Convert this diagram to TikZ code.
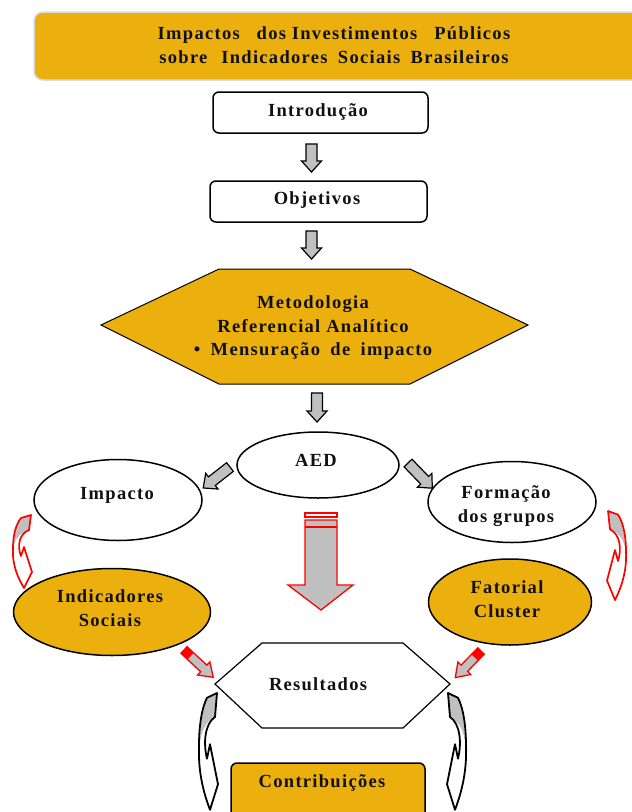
\documentclass[tikz,border=0pt]{standalone}
\usepackage{fontspec}
\setmainfont{Liberation Serif}[LetterSpace=7]
\usetikzlibrary{shapes.geometric,calc}
\definecolor{gold}{RGB}{236,176,14}
\definecolor{arrowgray}{RGB}{192,192,192}
\definecolor{ink}{RGB}{17,17,17}
\definecolor{rim}{RGB}{218,218,218}

\tikzset{
  arrlen/.store in=\arrlen, arrlen=28,
  curvecol/.store in=\curvecol, curvecol=red,
  curvewidth/.store in=\curvewidth, curvewidth=1.3,
  % grey block arrow pointing along local +x
  grayarrow/.pic={
    \draw[line width=1.2pt, fill=arrowgray, line join=miter]
      (0,-5.5) -- ({\arrlen-11},-5.5) -- ({\arrlen-11},-10) -- (\arrlen,0)
      -- ({\arrlen-11},10) -- ({\arrlen-11},5.5) -- (0,5.5) -- cycle;
  },
  % grey arrow with red outline and red tail
  redarrow/.pic={
    \fill[arrowgray] (0,-4.5) -- ({\arrlen-13},-4.5) -- ({\arrlen-13},-9) -- (\arrlen,0)
      -- ({\arrlen-13},9) -- ({\arrlen-13},4.5) -- (0,4.5) -- cycle;
    \fill[red] (0,-4.5) rectangle (9,4.5);
    \draw[red, line width=1.3pt, line join=miter]
      (0,-4.5) -- ({\arrlen-13},-4.5) -- ({\arrlen-13},-9) -- (\arrlen,0)
      -- ({\arrlen-13},9) -- ({\arrlen-13},4.5) -- (0,4.5) -- cycle;
  },
  % curved arrow, top band at the origin, head pointing down
  curvearrow/.pic={
    \fill[arrowgray] (-10,3) -- (0,0) -- (-2,15) .. controls (-9,17) and (-15,22) .. (-17,30)
      .. controls (-17,20) and (-14,9) .. cycle;
    \draw[draw=\curvecol, line width=\curvewidth pt, line join=round]
      (-10,3) -- (0,0) -- (-2,15) .. controls (-12,19) and (-14,31) .. (-10,41)
      -- (-7,32) -- (1,57) -- (-7,73) .. controls (-13,63) and (-19,50) .. (-18,33)
      .. controls (-18,20) and (-15,9) .. cycle;
  },
  every node/.style={font=\fontsize{18.5}{23.5}\selectfont\bfseries, text=ink,
    align=center, inner sep=0pt},
  roundbox/.style={draw=black, line width=1.5pt, rounded corners=6pt, fill=white},
  ellnode/.style={ellipse, draw=black, line width=1.5pt, fill=white},
  goldell/.style={ellnode, fill=gold},
}

\begin{document}
\begin{tikzpicture}[x=1pt, y=-1pt]
\useasboundingbox (0,0) rectangle (632,812);

% title banner
\draw[rim, line width=1.5pt, fill=gold, rounded corners=9pt] (34,12) rectangle (660,80);
\node (title) at (334,45) {Impactos\hspace{11pt} dos Investimentos\hspace{11pt} Públicos\\
  sobre\hspace{8pt} Indicadores\hspace{4.5pt} Sociais\hspace{4.5pt} Brasileiros};

% introduction and objectives
\node[roundbox, minimum width=215, minimum height=41] (intro) at (320.5,112.5) {};
\node (introtxt) at (318,112) {Introdução};
\node[roundbox, minimum width=217, minimum height=41] (obj) at (318.5,201.5) {};
\node (objtxt) at (317,200) {Objetivos};

\pic[rotate=-90, arrlen=28] at (311.5,144) {grayarrow};
\pic[rotate=-90, arrlen=28] at (311.5,231) {grayarrow};

% methodology
\draw[black, line width=1pt, fill=gold, line join=miter]
  (101,325) -- (219,269) -- (410,269) -- (528,325) -- (410,384) -- (219,384) -- cycle;
\node (meth) at (313,328) {Metodologia\\Referencial Analítico\\
  •\hspace{4.5pt} Mensuração\hspace{4.5pt} de\hspace{4.5pt} impacto};

\pic[rotate=-90, arrlen=29] at (317,393) {grayarrow};

% exploratory analysis
\node[ellnode, minimum width=162, minimum height=66] (aed) at (318,465) {};
\node (aedtxt) at (316,460) {AED};

\node[ellnode, minimum width=168, minimum height=81] (imp) at (118,500) {};
\node (imptxt) at (117,495) {Impacto};

\node[ellnode, minimum width=168, minimum height=81] (form) at (512,502) {};
\node (formtxt) at (506,506) {Formação\\dos grupos};

\pic[rotate=218, arrlen=34] at (230,467) {grayarrow};
\pic[rotate=-46, arrlen=35] at (408,463) {grayarrow};

% central striped arrow
\draw[red, line width=1.2pt, fill=white] (305,513) rectangle (337,517);
\draw[red, line width=1.3pt, fill=arrowgray, line join=miter]
  (305,520) -- (337,520) -- (337,585) -- (353,585) -- (321,610) -- (288,585) -- (305,585) -- cycle;
\draw[red, line width=1.2pt] (305,527) -- (337,527);

% indicators and clustering
\node[goldell, minimum width=197, minimum height=87] (ind) at (112,612) {};
\node (indtxt) at (110,608) {Indicadores\\Sociais};
\node[goldell, minimum width=163, minimum height=86] (fat) at (510,602) {};
\node (fattxt) at (507,599) {Fatorial\\Cluster};

\pic[curvecol=red, curvewidth=1.7] at (31,515) {curvearrow};
\pic[curvecol=red, curvewidth=1.7, xscale=-1, yscale=1.22] at (608,511) {curvearrow};

\pic[rotate=-43, arrlen=40] at (184,650) {redarrow};
\pic[rotate=226, arrlen=37] at (481,651) {redarrow};

% results
\draw[black, line width=1.2pt, fill=white, line join=miter]
  (215,684) -- (262,643) -- (403,643) -- (450,684) -- (403,728) -- (262,728) -- cycle;
\node (res) at (318,684) {Resultados};

\pic[curvecol=black, curvewidth=1.8, yscale=1.6] at (217,693) {curvearrow};
\pic[curvecol=black, curvewidth=1.8, xscale=-1, yscale=1.6] at (448,693) {curvearrow};

% contributions
\draw[black, line width=1.5pt, fill=gold, rounded corners=6pt] (231,763) rectangle (425,830);
\node (contrib) at (322,783) {Contribuições};
\end{tikzpicture}
\end{document}
